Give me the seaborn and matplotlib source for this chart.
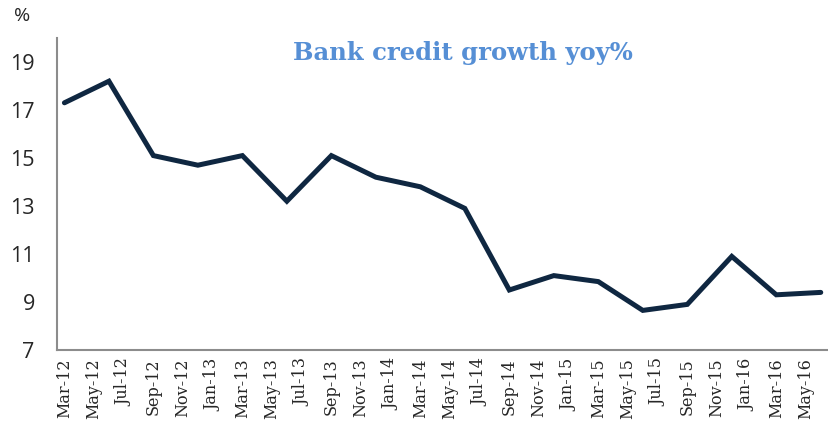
import matplotlib
matplotlib.use("Agg")
import matplotlib.pyplot as plt
import seaborn as sns
import pandas as pd
import numpy as np

# Data (quarterly, end of quarter)
quarters = ["2012-03", "2012-06", "2012-09", "2012-12", "2013-03", "2013-06",
            "2013-09", "2013-12", "2014-03", "2014-06", "2014-09", "2014-12",
            "2015-03", "2015-06", "2015-09", "2015-12", "2016-03", "2016-06"]
growth = [17.3, 18.2, 15.1, 14.7, 15.1, 13.2, 15.1, 14.2, 13.8, 12.9,
          9.5, 10.1, 9.85, 8.65, 8.9, 10.9, 9.3, 9.4]
tick_labels = ["Mar-12", "May-12", "Jul-12", "Sep-12", "Nov-12", "Jan-13",
               "Mar-13", "May-13", "Jul-13", "Sep-13", "Nov-13", "Jan-14",
               "Mar-14", "May-14", "Jul-14", "Sep-14", "Nov-14", "Jan-15",
               "Mar-15", "May-15", "Jul-15", "Sep-15", "Nov-15", "Jan-16",
               "Mar-16", "May-16"]
y_ticks = [7, 9, 11, 13, 15, 17, 19]

dates = pd.to_datetime(quarters)
start = dates[0]
months = [(d.year - start.year) * 12 + (d.month - start.month) for d in dates]
df = pd.DataFrame({"month": months, "growth": growth})

sns.set_style("white")
fig = plt.figure(figsize=(8.29, 4.24), dpi=100)
ax = fig.add_axes([57/829, 1 - 350/424, 1 - 57/829 - 0.001, (350 - 38)/424])

sns.lineplot(data=df, x="month", y="growth", ax=ax, color="#0f2741",
             linewidth=3.6, solid_joinstyle="miter")

n_months = months[-1] + 1
ax.set_xlim(-0.5, n_months - 0.5)
ax.set_ylim(7, 20)

# major ticks (marks) at slot boundaries, minor ticks (labels) at slot centers
ax.set_xticks([-0.5 + 2 * i for i in range(len(tick_labels))])
ax.set_xticklabels([])
ax.set_xticks([2 * i for i in range(len(tick_labels))], minor=True)
ax.set_xticklabels(tick_labels, minor=True, rotation=90,
                   fontfamily="DejaVu Serif", fontsize=11.5)
ax.tick_params(axis="x", which="major", length=6, width=1.2, color="#8c8c8c",
               direction="out")
ax.tick_params(axis="x", which="minor", length=0, pad=6)

ax.set_yticks(y_ticks)
ax.set_yticklabels([str(v) for v in y_ticks], fontfamily="Open Sans",
                   fontsize=15.5)
ax.tick_params(axis="y", length=8, width=1.2, color="#8c8c8c",
               direction="out", pad=8)

for s in ["top", "right"]:
    ax.spines[s].set_visible(False)
for s in ["left", "bottom"]:
    ax.spines[s].set_color("#8c8c8c")
    ax.spines[s].set_linewidth(1.5)

ax.set_xlabel("")
ax.set_ylabel("")

fig.text(22/829, 1 - 16/424, "%", fontfamily="Open Sans", fontsize=14,
         ha="center", va="center")
fig.text(463/829, 1 - 53/424, "Bank credit growth yoy%",
         fontfamily="DejaVu Serif", fontweight="bold", fontsize=17.5,
         color="#568fd5", ha="center", va="center")

fig.savefig("out.png", dpi=100)
